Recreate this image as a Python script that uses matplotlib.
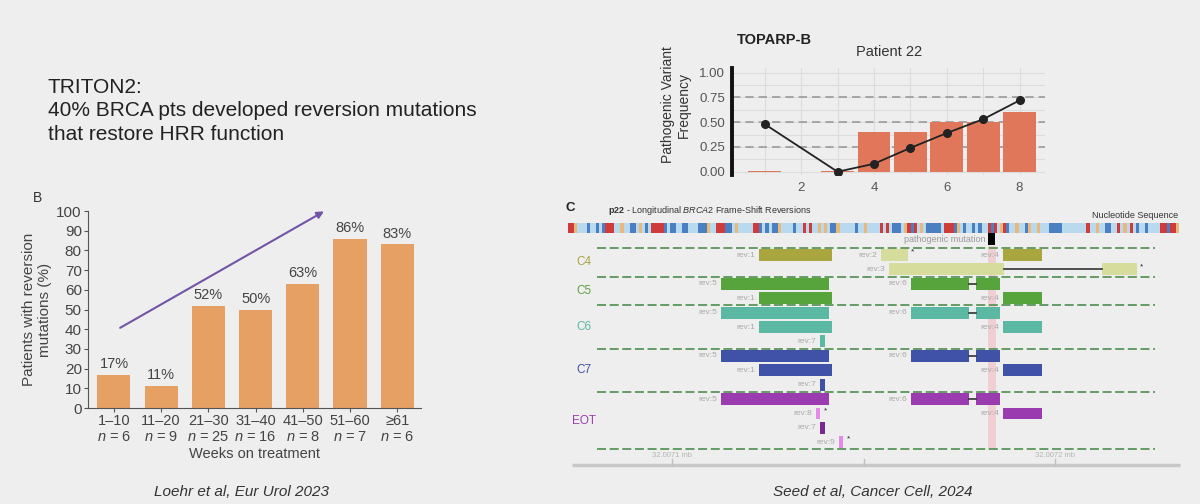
import matplotlib
matplotlib.use('Agg')
import matplotlib.pyplot as plt

plt.rcParams['font.family'] = ['Liberation Sans', 'DejaVu Sans']
plt.rcParams['mathtext.fontset'] = 'custom'
plt.rcParams['mathtext.rm'] = 'Liberation Sans'
plt.rcParams['mathtext.it'] = 'Liberation Sans:italic'
plt.rcParams['mathtext.bf'] = 'Liberation Sans:bold'

BG = '#eeeeee'
W, H = 1200, 504

# ---- TRITON2 (Loehr et al) ----
weeks = ['1–10', '11–20', '21–30', '31–40', '41–50', '51–60', '≥61']
n_pts = [6, 9, 25, 16, 8, 7, 6]
pct_reversion = [17, 11, 52, 50, 63, 86, 83]

# ---- TOPARP-B patient 22 ----
sample_x = [1, 2, 3, 4, 5, 6, 7, 8]
bar_freq = [0.005, 0, 0.005, 0.40, 0.40, 0.50, 0.50, 0.60]
line_x = [1, 3, 4, 5, 6, 7, 8]
line_freq = [0.48, 0.0, 0.08, 0.24, 0.39, 0.53, 0.72]

# ---- Seed et al, p22 reversions ----
# nucleotide strip, A=red T=blue C=light blue G=tan
sequence = ("AAGCCCTCCTCTAAACCGCCTTCGCTCAAAATCTTCCTTCCCTTTGCCAA"
            "ATTCGCCCCCAATCTCTTGCCCCTCCACACCGCGCTTGCCCCCTCCGCCC"
            "CACACTTTCGATACGCTTTTTCAAATGCTCCTCTCCATACGATCCGCCTG"
            "CCGCCCTTTTCCCCCCCCACCGCCTTCCACGCACTCCTCCCCAATAAG")
base_colors = {'A': '#cf3a3a', 'T': '#4a80c2', 'C': '#b9d9ee', 'G': '#e9b97c'}

timepoints = ['C4', 'C5', 'C6', 'C7', 'EOT']
tp_colors = ['#a9a640', '#58a43c', '#5bb8a2', '#3f52a8', '#9a3cb0']
tp_rows = [[0, 1], [2, 3], [4, 5, 6], [7, 8, 9], [10, 11, 12, 13]]

# segments of each reversion, bp after 32,007,000
rev_segments = {
    1: [(122.7, 141.7)],
    2: [(154.6, 161.5)],
    3: [(156.5, 186.6), (212.3, 221.4)],
    4: [(186.3, 196.6)],
    5: [(112.6, 140.9)],
    6: [(162.3, 177.5), (179.4, 185.6)],
    7: [(138.5, 139.8)],
    8: [(137.4, 138.7)],
    9: [(143.5, 144.7)],
}
row_revs = [[1, 2, 4], [3], [5, 6], [1, 4], [5, 6], [1, 4], [7],
            [5, 6], [1, 4], [7], [5, 6], [8, 4], [7], [9]]
starred = [(0, 2), (1, 3), (11, 8), (13, 9)]
special_color = {(0, 2): '#d6dc9c', (1, 3): '#d6dc9c', (11, 8): '#e38be6',
                 (12, 7): '#7a2890', (13, 9): '#e38be6'}
pathogenic = (182.6, 184.3)
axis_ticks = [100, 150, 200]
axis_labels = {100: '32.0071 mb', 200: '32.0072 mb'}


def box(x0, y0, x1, y1):
    return [x0 / W, 1 - y1 / H, (x1 - x0) / W, (y1 - y0) / H]


fig = plt.figure(figsize=(12, 5.04), dpi=100, facecolor=BG)


def ft(x, y, s, **kw):
    fig.text(x / W, 1 - y / H, s, **kw)


ft(48, 111, 'TRITON2:\n40% BRCA pts developed reversion mutations\nthat restore HRR function',
   va='center', fontsize=15, linespacing=1.3, color='#222222')

# ---------------- panel B ----------------
axB = fig.add_axes(box(88, 211, 420.8, 408))
axB.set_facecolor(BG)
xs = list(range(len(weeks)))
axB.bar(xs, pct_reversion, width=0.7, color='#e6a064')
for i, v in enumerate(pct_reversion):
    axB.text(i, v + 2, f'{v}%', ha='center', va='bottom', fontsize=10.5, color='#444444')
axB.set_xlim(-0.55, 6.5)
axB.set_ylim(0, 100)
axB.set_yticks(range(0, 101, 10))
axB.set_xticks(xs)
axB.set_xticklabels([f'{w}\n$n$ = {n}' for w, n in zip(weeks, n_pts)])
for s in ['top', 'right']:
    axB.spines[s].set_visible(False)
for s in ['left', 'bottom']:
    axB.spines[s].set_color('#555555')
axB.tick_params(labelsize=10.5, colors='#555555', labelcolor='#444444', length=3, pad=1.5)
axB.tick_params(axis='y', labelsize=11)
axB.set_xlabel('Weeks on treatment', fontsize=10.5, color='#444444', labelpad=2)
axB.set_ylabel('Patients with reversion\nmutations (%)', fontsize=11, color='#444444', labelpad=3)
axB.annotate('', xy=(4.5, 100.5), xytext=(0.08, 40), annotation_clip=False,
             arrowprops=dict(arrowstyle='-|>', color='#7254a8', lw=1.5, mutation_scale=10))
ft(33, 198, 'B', fontsize=10, va='center', color='#333333')
ft(241, 492, 'Loehr et al, Eur Urol 2023', fontsize=11, style='italic', ha='center', va='center', color='#333333')

# ---------------- TOPARP-B ----------------
axT = fig.add_axes(box(732, 68, 1045, 175))
axT.set_facecolor(BG)
axT.set_xticks([2, 4, 6, 8])
axT.set_xticks(sample_x, minor=True)
axT.set_yticks([0, 0.25, 0.5, 0.75, 1.0])
axT.set_yticks([0.125, 0.375, 0.625, 0.875], minor=True)
axT.grid(which='both', color='#dcdcdc', lw=0.8)
axT.set_axisbelow(True)
for y in [0.25, 0.5, 0.75]:
    axT.axhline(y, color='#9a9a9a', lw=1.2, ls=(0, (5, 3)), zorder=1)
axT.bar(sample_x, bar_freq, width=0.9, color='#e0765a', zorder=2)
axT.plot(line_x, line_freq, color='#222222', lw=1.3, marker='o', ms=5.5, zorder=3)
axT.set_xlim(0.1, 8.7)
axT.set_ylim(-0.033, 1.047)
axT.set_yticklabels(['0.00', '0.25', '0.50', '0.75', '1.00'])
for s in ['top', 'right', 'bottom']:
    axT.spines[s].set_visible(False)
axT.spines['left'].set_color('#111111')
axT.spines['left'].set_linewidth(2.8)
axT.tick_params(which='both', length=0, labelsize=9.5, labelcolor='#555555', pad=5)
ft(676, 104.5, 'Pathogenic Variant\nFrequency', rotation=90, ha='center', va='center',
   fontsize=10, color='#333333')
ft(737, 40, 'TOPARP-B', fontsize=10.5, weight='bold', va='center', color='#222222')
ft(889.5, 52, 'Patient 22', fontsize=10.5, ha='center', va='center', color='#333333')

# ---------------- panel C ----------------
ft(566, 208, 'C', fontsize=9.5, weight='bold', va='center', color='#222222')
ft(608, 210, r'$\bf{p22}$ - Longitudinal $\it{BRCA2}$ Frame-Shift Reversions',
   fontsize=6.5, va='center', color='#333333')
ft(1178, 216, 'Nucleotide Sequence', fontsize=6.5, ha='right', va='center', color='#333333')

axS = fig.add_axes(box(568, 223, 1179, 233))
axS.bar(range(len(sequence)), 1, width=1, align='edge',
        color=[base_colors[b] for b in sequence])
axS.set_xlim(0, len(sequence))
axS.set_ylim(0, 1)
axS.axis('off')

axC = fig.add_axes(box(560, 228, 1195, 470))
axC.set_xlim(70.58, 236.64)
axC.set_ylim(14.93, -1.875)
axC.axis('off')

bar_h = 0.82
axC.fill_betweenx([-0.65, 13.55], pathogenic[0] - 0.2, pathogenic[1] + 0.2,
                  color='#f0cfd2', lw=0, zorder=0)
axC.barh(-1.1, pathogenic[1] - pathogenic[0], left=pathogenic[0], height=0.84, color='black')
axC.text(pathogenic[0] - 0.8, -1.05, 'pathogenic mutation', ha='right', va='center',
         fontsize=6.5, color='#9a9a9a')

bounds = [tp_rows[0][0] - 0.5] + [r[-1] + 0.5 for r in tp_rows]
for b in bounds:
    axC.plot([80.2, 226.2], [b, b], color='#5a955a', lw=1.3, ls=(0, (5, 2)), zorder=1)

for ti, (name, rows) in enumerate(zip(timepoints, tp_rows)):
    col = tp_colors[ti]
    axC.text(76.8, sum(rows) / len(rows), name, ha='center', va='center', fontsize=8.5, color=col)
    for r in rows:
        for rev in row_revs[r]:
            c = special_color.get((r, rev), col)
            segs = rev_segments[rev]
            for s0, s1 in segs:
                axC.barh(r, s1 - s0, left=s0, height=bar_h, color=c, zorder=2)
            for (a0, a1), (b0, b1) in zip(segs[:-1], segs[1:]):
                axC.plot([a1, b0], [r, r], color='#333333', lw=1.2, zorder=2)
            axC.text(segs[0][0] - 1.0, r, f'rev:{rev}', ha='right', va='center',
                     fontsize=6, color='#a8a8a8')
            if (r, rev) in starred:
                axC.text(segs[-1][1] + 0.8, r - 0.2, '*', ha='left', va='center',
                         fontsize=6, color='#222222')

axC.plot([73.7, 232.7], [14.58, 14.58], color='#c8c8c8', lw=2.5, solid_capstyle='butt')
for t in axis_ticks:
    axC.plot([t, t], [14.2, 14.58], color='#c0c0c0', lw=1)
    if t in axis_labels:
        axC.text(t, 13.95, axis_labels[t], ha='center', va='center', fontsize=5.5, color='#b5b5b5')

ft(873, 492, 'Seed et al, Cancer Cell, 2024', fontsize=11, style='italic', ha='center', va='center', color='#333333')

fig.savefig('out.png', dpi=100, facecolor=BG)
